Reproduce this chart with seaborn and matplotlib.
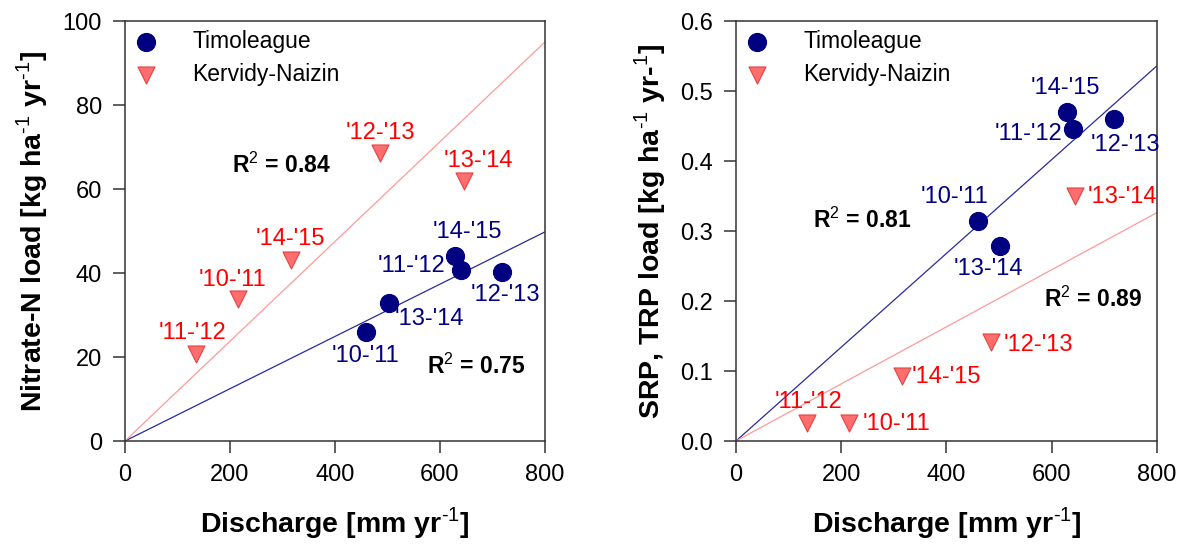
import numpy as np
import pandas as pd
import matplotlib
matplotlib.use("Agg")
import matplotlib.pyplot as plt
import seaborn as sns

# Hydrological years
years = ["'10-'11", "'11-'12", "'12-'13", "'13-'14", "'14-'15"]

# Annual discharge [mm/yr]
q_timoleague = [459, 640, 718, 502, 629]
q_kervidy = [215, 135, 485, 645, 316]

# Nitrate-N load [kg/ha/yr]
no3_timoleague = [26.0, 40.6, 40.2, 32.8, 44.1]
no3_kervidy = [33.7, 20.7, 68.5, 62.0, 43.0]

# SRP / TRP load [kg/ha/yr]
p_timoleague = [0.314, 0.446, 0.460, 0.278, 0.470]
p_kervidy = [0.026, 0.026, 0.141, 0.350, 0.093]

sites = ["Timoleague", "Kervidy-Naizin"]
r2_nitrate = {"Timoleague": "0.75", "Kervidy-Naizin": "0.84"}
r2_phos = {"Timoleague": "0.81", "Kervidy-Naizin": "0.89"}

sns.set_style("white")
plt.rcParams["font.family"] = ["Liberation Sans", "DejaVu Sans"]
plt.rcParams["mathtext.fontset"] = "custom"
plt.rcParams["mathtext.rm"] = "Liberation Sans"
plt.rcParams["mathtext.bf"] = "Liberation Sans:bold"
for key in ("text.color", "axes.labelcolor", "xtick.color", "ytick.color"):
    plt.rcParams[key] = "black"

NAVY = "#000080"
SALMON = "#ff6e6e"
SALMON_EDGE = "#e84040"
RED_TXT = "#ff0000"
LINE_RED = "#ff9a9a"
palette = {"Timoleague": NAVY, "Kervidy-Naizin": SALMON}
markers = {"Timoleague": "o", "Kervidy-Naizin": "v"}
text_col = {"Timoleague": NAVY, "Kervidy-Naizin": RED_TXT}
line_col = {"Timoleague": "#2a2a9a", "Kervidy-Naizin": LINE_RED}

TICK_FS = 17
YEAR_FS = 17
R2_FS = 16.5
LEG_FS = 16.5
LABEL_FS = 20.5
SUP = r"$^{\text{-}1}$"


def frame(q_t, l_t, q_k, l_k):
    return pd.DataFrame({
        "site": [sites[0]] * len(years) + [sites[1]] * len(years),
        "year": years * 2,
        "q": q_t + q_k,
        "load": l_t + l_k,
    })


df_n = frame(q_timoleague, no3_timoleague, q_kervidy, no3_kervidy)
df_p = frame(q_timoleague, p_timoleague, q_kervidy, p_kervidy)

fig = plt.figure(figsize=(11.88, 5.6), dpi=100)
ax1 = fig.add_axes([0.1052, 0.2125, 0.3535, 0.7500])
ax2 = fig.add_axes([0.6195, 0.2125, 0.3544, 0.7500])


def origin_fit(ax, df, xmax):
    # least-squares line forced through the origin for each site
    for s in sites:
        d = df[df.site == s]
        slope = (d.q * d.load).sum() / (d.q ** 2).sum()
        xs = np.array([0.0, xmax])
        sns.lineplot(x=xs, y=slope * xs, ax=ax, color=line_col[s],
                     lw=0.9, legend=False, zorder=1)


def scatter(ax, df):
    for s in sites:
        d = df[df.site == s]
        kw = dict(s=150, linewidth=0.8)
        if s == "Timoleague":
            kw.update(edgecolor=NAVY, s=170)
        else:
            kw.update(edgecolor=SALMON_EDGE)
        sns.scatterplot(data=d, x="q", y="load", color=palette[s],
                        marker=markers[s], ax=ax, label=s, zorder=3, **kw)


def style(ax, ymax, yticks, fmt, ylabel):
    ax.set_xlim(0, 800)
    ax.set_ylim(0, ymax)
    ax.set_xticks([0, 200, 400, 600, 800])
    ax.set_yticks(yticks)
    ax.set_yticklabels([fmt.format(v) for v in yticks])
    for sp in ax.spines.values():
        sp.set_visible(True)
        sp.set_color("#333333")
        sp.set_linewidth(1.1)
    ax.tick_params(direction="out", length=8.6, width=1.1, color="#333333",
                   labelsize=TICK_FS, pad=8, left=True, bottom=True)
    ax.set_xlabel("Discharge [mm yr" + SUP + "]", fontsize=LABEL_FS,
                  fontweight="bold", labelpad=14)
    ax.set_ylabel(ylabel, fontsize=LABEL_FS, fontweight="bold", labelpad=9)
    ax.legend(loc="upper left", frameon=False, fontsize=LEG_FS,
              handlelength=1.0, handletextpad=1.55, labelspacing=0.45,
              borderaxespad=0.1, borderpad=0.3)


# ---- Nitrate-N ----
origin_fit(ax1, df_n, 800)
scatter(ax1, df_n)
style(ax1, 100, [0, 20, 40, 60, 80, 100], "{:.0f}",
      "Nitrate-N load [kg ha" + SUP + " yr" + SUP + "]")

lab_n = [
    ("Timoleague", "'10-'11", 458, 20.2, "center"),
    ("Timoleague", "'11-'12", 545, 41.6, "center"),
    ("Timoleague", "'12-'13", 725, 34.8, "center"),
    ("Timoleague", "'13-'14", 580, 29.0, "center"),
    ("Timoleague", "'14-'15", 652, 49.7, "center"),
    ("Kervidy-Naizin", "'10-'11", 204, 38.4, "center"),
    ("Kervidy-Naizin", "'11-'12", 129, 25.8, "center"),
    ("Kervidy-Naizin", "'12-'13", 487, 73.3, "center"),
    ("Kervidy-Naizin", "'13-'14", 674, 66.6, "center"),
    ("Kervidy-Naizin", "'14-'15", 316, 48.0, "center"),
]
for s, t, x, y, ha in lab_n:
    ax1.text(x, y, t, color=text_col[s], fontsize=YEAR_FS, ha=ha, va="center")
ax1.text(298, 65.7, "R$^{2}$ = " + r2_nitrate["Kervidy-Naizin"], fontsize=R2_FS,
         fontweight="bold", ha="center", va="center")
ax1.text(668, 17.9, "R$^{2}$ = " + r2_nitrate["Timoleague"], fontsize=R2_FS,
         fontweight="bold", ha="center", va="center")

# ---- SRP / TRP ----
origin_fit(ax2, df_p, 800)
scatter(ax2, df_p)
style(ax2, 0.6, [0.0, 0.1, 0.2, 0.3, 0.4, 0.5, 0.6], "{:.1f}",
      "SRP, TRP load [kg ha" + SUP + " yr-$^{1}$]")

lab_p = [
    ("Timoleague", "'10-'11", 415, 0.348, "center"),
    ("Timoleague", "'11-'12", 555, 0.439, "center"),
    ("Timoleague", "'12-'13", 739, 0.423, "center"),
    ("Timoleague", "'13-'14", 479, 0.246, "center"),
    ("Timoleague", "'14-'15", 625, 0.504, "center"),
    ("Kervidy-Naizin", "'10-'11", 240, 0.025, "left"),
    ("Kervidy-Naizin", "'11-'12", 138, 0.056, "center"),
    ("Kervidy-Naizin", "'12-'13", 508, 0.137, "left"),
    ("Kervidy-Naizin", "'13-'14", 669, 0.349, "left"),
    ("Kervidy-Naizin", "'14-'15", 333, 0.092, "left"),
]
for s, t, x, y, ha in lab_p:
    ax2.text(x, y, t, color=text_col[s], fontsize=YEAR_FS, ha=ha, va="center")
ax2.text(240, 0.315, "R$^{2}$ = " + r2_phos["Timoleague"], fontsize=R2_FS,
         fontweight="bold", ha="center", va="center")
ax2.text(678, 0.202, "R$^{2}$ = " + r2_phos["Kervidy-Naizin"], fontsize=R2_FS,
         fontweight="bold", ha="center", va="center")

fig.savefig("out.png", dpi=100)
